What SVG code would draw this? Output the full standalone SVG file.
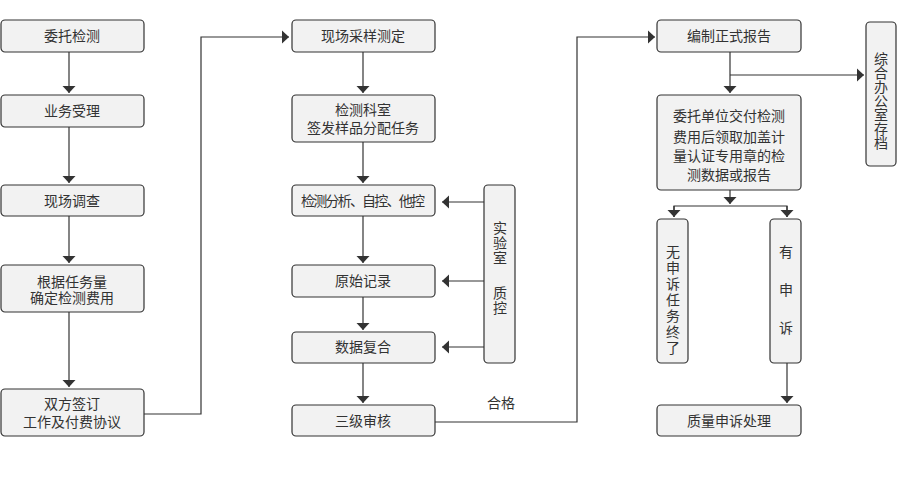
<svg xmlns="http://www.w3.org/2000/svg" width="897" height="501" viewBox="0 0 897 501">
<defs>
<style>
.box{fill:#f2f2f2;stroke:#333;stroke-width:1.2}
.t{font-family:"Noto Sans CJK SC","Noto Sans",sans-serif;font-size:14px;fill:#333;text-anchor:middle}
.v{writing-mode:vertical-rl}
.c{fill:none;stroke:#333;stroke-width:1.2}
</style>
<marker id="ah" markerUnits="userSpaceOnUse" markerWidth="8" markerHeight="14" viewBox="0 0 8 14" refX="7" refY="7" orient="auto">
<path d="M0,0.5 L7,7 L0,13.5 z" fill="#333"/>
</marker>
</defs>
<rect width="897" height="501" fill="#fff"/>
<g id="connectors">
<path class="c" d="M69,52 V93" marker-end="url(#ah)"/>
<path class="c" d="M69,127 V183" marker-end="url(#ah)"/>
<path class="c" d="M69,216 V263" marker-end="url(#ah)"/>
<path class="c" d="M69,312 V387" marker-end="url(#ah)"/>
<path class="c" d="M144,414 H201 V37 H289" marker-end="url(#ah)"/>
<path class="c" d="M363,52 V93" marker-end="url(#ah)"/>
<path class="c" d="M363,142 V183" marker-end="url(#ah)"/>
<path class="c" d="M363,216 V263" marker-end="url(#ah)"/>
<path class="c" d="M363,297 V330" marker-end="url(#ah)"/>
<path class="c" d="M363,363 V403" marker-end="url(#ah)"/>
<path class="c" d="M484,202 H442" marker-end="url(#ah)"/>
<path class="c" d="M484,281 H442" marker-end="url(#ah)"/>
<path class="c" d="M484,347 H442" marker-end="url(#ah)"/>
<path class="c" d="M435,422 H577 V37 H655" marker-end="url(#ah)"/>
<path class="c" d="M730,52 V93" marker-end="url(#ah)"/>
<path class="c" d="M730,75 H864" marker-end="url(#ah)"/>
<path class="c" d="M730,190 V204" marker-end="url(#ah)"/>
<path class="c" d="M674,217 V206 H787 V217"/>
<path class="c" d="M674,206 V217" marker-end="url(#ah)"/>
<path class="c" d="M787,206 V217" marker-end="url(#ah)"/>
<path class="c" d="M787,363 V403" marker-end="url(#ah)"/>
<text class="t" x="501" y="408">合格</text>
</g>
<g id="n1"><rect class="box" x="1" y="20" width="143" height="32" rx="4"/><text class="t" x="72" y="41">委托检测</text></g>
<g id="n2"><rect class="box" x="1" y="95" width="143" height="32" rx="4"/><text class="t" x="72" y="116">业务受理</text></g>
<g id="n3"><rect class="box" x="1" y="185" width="143" height="31" rx="4"/><text class="t" x="72" y="206">现场调查</text></g>
<g id="n4"><rect class="box" x="1" y="265" width="143" height="47" rx="4"/><text class="t" x="72" y="287">根据任务量<tspan x="72" dy="16">确定检测费用</tspan></text></g>
<g id="n5"><rect class="box" x="1" y="389" width="143" height="47" rx="4"/><text class="t" x="72" y="409">双方签订<tspan x="72" dy="18">工作及付费协议</tspan></text></g>
<g id="n6"><rect class="box" x="292" y="20" width="143" height="32" rx="4"/><text class="t" x="363" y="41">现场采样测定</text></g>
<g id="n7"><rect class="box" x="292" y="95" width="143" height="47" rx="4"/><text class="t" x="363" y="115">检测科室<tspan x="363" dy="18">签发样品分配任务</tspan></text></g>
<g id="n8"><rect class="box" x="292" y="185" width="143" height="31" rx="4"/><text class="t" x="363" y="206" textLength="124" lengthAdjust="spacing">检测分析、自控、他控</text></g>
<g id="n9"><rect class="box" x="292" y="265" width="143" height="32" rx="4"/><text class="t" x="363" y="286">原始记录</text></g>
<g id="n10"><rect class="box" x="292" y="332" width="143" height="31" rx="4"/><text class="t" x="363" y="352">数据复合</text></g>
<g id="n11"><rect class="box" x="292" y="405" width="143" height="31" rx="4"/><text class="t" x="363" y="426">三级审核</text></g>
<g id="n12"><rect class="box" x="484" y="185" width="31" height="178" rx="4"/>
<text class="t v" x="500" y="243" letter-spacing="1">实验室</text><text class="t v" x="500" y="301" letter-spacing="1">质控</text></g>
<g id="n13"><rect class="box" x="657" y="20" width="144" height="32" rx="4"/><text class="t" x="729" y="41">编制正式报告</text></g>
<g id="n14"><rect class="box" x="657" y="95" width="144" height="95" rx="4"/>
<text class="t" x="729" y="121">委托单位交付检测<tspan x="729" dy="21">费用后领取加盖计</tspan><tspan x="729" dy="19">量认证专用章的检</tspan><tspan x="729" dy="19">测数据或报告</tspan></text></g>
<g id="n15"><rect class="box" x="866" y="22" width="30" height="144" rx="4"/>
<text class="t v" x="881" y="101">综合办公室存档</text></g>
<g id="n16"><rect class="box" x="657" y="219" width="31" height="144" rx="4"/>
<text class="t v" x="673" y="301" letter-spacing="2">无申诉任务终了</text></g>
<g id="n17"><rect class="box" x="770" y="219" width="31" height="144" rx="4"/>
<text class="t" x="786" y="257">有</text><text class="t" x="786" y="295">申</text><text class="t" x="786" y="333">诉</text></g>
<g id="n18"><rect class="box" x="657" y="405" width="144" height="31" rx="4"/><text class="t" x="729" y="426">质量申诉处理</text></g>
</svg>
